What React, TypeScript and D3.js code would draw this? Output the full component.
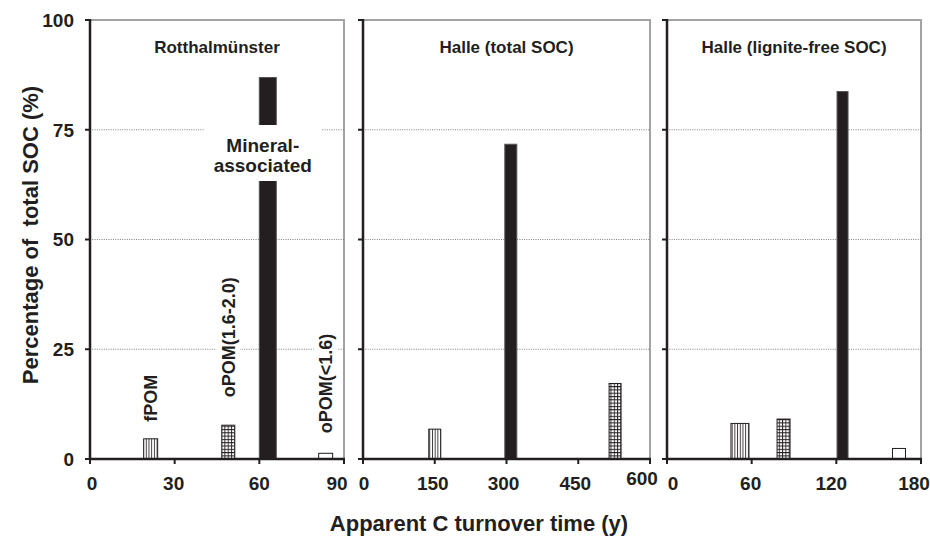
import React, { useEffect, useRef } from "react";
import * as d3 from "d3";

const fractions = ["fPOM", "oPOM(1.6-2.0)", "Mineral-associated", "oPOM(<1.6)"];

// apparent C turnover time (y) and share of total SOC (%), one entry per fraction
const rotTurnover = [21.5, 49, 63, 83.5];
const rotShare = [4.6, 7.7, 86.9, 1.3];
const halleTurnover = [150, 527, 309, null];
const halleShare = [6.8, 17.2, 71.7, null];
const ligniteFreeTurnover = [51.7, 82.6, 124.4, 164.4];
const ligniteFreeShare = [8.1, 9.1, 83.7, 2.4];

const panelTitles = ["Rotthalmünster", "Halle (total SOC)", "Halle (lignite-free SOC)"];
const xMax = [90, 600, 180];
const xTicks = [
  [0, 30, 60, 90],
  [0, 150, 300, 450, 600],
  [0, 60, 120, 180],
];
const yTicks = [0, 25, 50, 75, 100];

const ink = "#231f20";
const fills = ["url(#stripes)", "url(#grid)", ink, "#fff"];
const barWidths = [
  [14, 13, 17, 14],
  [12, 12, 12, 12],
  [18, 13, 11, 13],
];
const panelRanges = [
  [90, 344],
  [363, 650],
  [667, 921],
];
const tickDx = [
  [2, -1, 0, -7],
  [1, -2, -3, -3, -8],
  [6, -1, -5, -7],
];
const font = "'Liberation Sans', Arial, sans-serif";

export default function App() {
  const ref = useRef<SVGSVGElement>(null);

  useEffect(() => {
    const svg = d3.select(ref.current);
    svg.selectAll("*").remove();

    const defs = svg.append("defs");
    const stripes = defs.append("pattern").attr("id", "stripes")
      .attr("patternUnits", "userSpaceOnUse").attr("width", 2.7).attr("height", 4);
    stripes.append("rect").attr("width", 2.7).attr("height", 4).attr("fill", "#fff");
    stripes.append("line").attr("x1", 0.5).attr("x2", 0.5).attr("y1", 0).attr("y2", 4)
      .attr("stroke", ink).attr("stroke-width", 0.9);
    const grid = defs.append("pattern").attr("id", "grid")
      .attr("patternUnits", "userSpaceOnUse").attr("width", 3.3).attr("height", 3.3);
    grid.append("rect").attr("width", 3.3).attr("height", 3.3).attr("fill", "#fff");
    grid.append("path").attr("d", "M0.5,0V3.3M0,0.5H3.3")
      .attr("stroke", ink).attr("stroke-width", 0.9);

    const y = d3.scaleLinear().domain([0, 100]).range([459, 20]);

    const panels = [
      { turnover: rotTurnover, share: rotShare },
      { turnover: halleTurnover, share: halleShare },
      { turnover: ligniteFreeTurnover, share: ligniteFreeShare },
    ];

    panels.forEach((p, pi) => {
      const x = d3.scaleLinear().domain([0, xMax[pi]]).range(panelRanges[pi]);
      const [x0, x1] = panelRanges[pi];
      const g = svg.append("g");

      // frame
      g.append("path")
        .attr("d", `M${x0},${y(100)}H${x1}V${y(0)}`)
        .attr("fill", "none").attr("stroke", "#a3a3a3").attr("stroke-width", 2);

      // dotted grid lines
      g.selectAll(".grid").data(yTicks.filter((t) => t > 0 && t < 100)).enter()
        .append("line")
        .attr("x1", x0).attr("x2", x1)
        .attr("y1", (d) => y(d)).attr("y2", (d) => y(d))
        .attr("stroke", "#808080").attr("stroke-width", 1)
        .attr("stroke-dasharray", "1,1.3");

      // bars
      const rows = fractions.map((f, i) => ({
        f, i, t: p.turnover[i], v: p.share[i], w: barWidths[pi][i],
      })).filter((d) => d.t != null);

      g.selectAll(".bar").data(rows).enter().append("rect")
        .attr("x", (d) => x(d.t as number) - d.w / 2)
        .attr("width", (d) => d.w)
        .attr("y", (d) => y(d.v as number))
        .attr("height", (d) => y(0) - y(d.v as number))
        .attr("fill", (d) => fills[d.i])
        .attr("stroke", (d) => (d.i === 2 ? "#555" : ink))
        .attr("stroke-width", 1);

      // labels for the first panel
      if (pi === 0) {
        const gaps = [17, 28, 0, 20];
        rows.filter((d) => d.i !== 2).forEach((d) => {
          const bx = x(d.t as number);
          const by = y(d.v as number) - gaps[d.i];
          const t = g.append("text")
            .attr("transform", `translate(${bx},${by}) rotate(-90)`)
            .attr("dy", "0.36em")
            .attr("font-family", font).attr("font-weight", "bold")
            .attr("font-size", 18).attr("fill", ink)
            .text(d.f);
          const bb = (t.node() as SVGTextElement).getBBox();
          g.insert("rect", "text")
            .attr("x", bx - bb.height / 2 - 2).attr("y", by - bb.width - 2)
            .attr("width", bb.height + 4).attr("height", bb.width + 4)
            .attr("fill", "#fff");
        });
        const m = rows[2];
        const mx = x(m.t as number) - 5;
        g.append("rect").attr("x", mx - 59).attr("y", 125)
          .attr("width", 118).attr("height", 56).attr("fill", "#fff");
        const mt = g.append("text")
          .attr("font-family", font).attr("font-weight", "bold")
          .attr("font-size", 19).attr("fill", ink).attr("text-anchor", "middle");
        mt.append("tspan").attr("x", mx).attr("y", 151.5).text("Mineral-");
        mt.append("tspan").attr("x", mx).attr("y", 171.5).text("associated");
      }

      // axes
      g.append("line").attr("x1", x0).attr("x2", x0)
        .attr("y1", y(100) - 1).attr("y2", y(0) + 1)
        .attr("stroke", ink).attr("stroke-width", 2.5);
      g.append("line").attr("x1", x0 - 1).attr("x2", x1 + 1)
        .attr("y1", y(0)).attr("y2", y(0))
        .attr("stroke", ink).attr("stroke-width", 2.5);
      g.selectAll(".yt").data(yTicks).enter().append("line")
        .attr("x1", x0 - 5).attr("x2", x0)
        .attr("y1", (d) => y(d)).attr("y2", (d) => y(d))
        .attr("stroke", ink).attr("stroke-width", 2);
      g.selectAll(".xt").data(xTicks[pi]).enter().append("line")
        .attr("x1", (d) => x(d)).attr("x2", (d) => x(d))
        .attr("y1", y(0)).attr("y2", y(0) + 5)
        .attr("stroke", ink).attr("stroke-width", 2);
      g.selectAll(".xl").data(xTicks[pi]).enter().append("text")
        .attr("x", (d, i) => x(d) + tickDx[pi][i])
        .attr("y", (d) => (pi === 1 && d === 600 ? 485 : 490))
        .attr("text-anchor", "middle")
        .attr("font-family", font).attr("font-weight", "bold")
        .attr("font-size", 19).attr("fill", ink)
        .text((d) => d);

      g.append("text")
        .attr("x", (x0 + x1) / 2).attr("y", 52.5)
        .attr("text-anchor", "middle")
        .attr("font-family", font).attr("font-weight", "bold")
        .attr("font-size", 17).attr("fill", ink)
        .text(panelTitles[pi]);

      if (pi === 0) {
        g.selectAll(".yl").data(yTicks).enter().append("text")
          .attr("x", 74).attr("y", (d) => y(d)).attr("dy", "0.36em")
          .attr("text-anchor", "end")
          .attr("font-family", font).attr("font-weight", "bold")
          .attr("font-size", 19).attr("fill", ink)
          .text((d) => d);
      }
    });

    svg.append("text")
      .attr("transform", "translate(38,235) rotate(-90)")
      .attr("text-anchor", "middle")
      .attr("font-family", font).attr("font-weight", "bold")
      .attr("font-size", 22).attr("fill", ink)
      .style("white-space", "pre")
      .text("Percentage of  total SOC (%)");

    svg.append("text")
      .attr("x", 479).attr("y", 531)
      .attr("text-anchor", "middle")
      .attr("font-family", font).attr("font-weight", "bold")
      .attr("font-size", 22).attr("fill", ink)
      .text("Apparent C turnover time (y)");
  }, []);

  return (
    <svg ref={ref} width={930} height={536}
      style={{ position: "absolute", left: 0, top: 0, background: "#fff" }} />
  );
}
